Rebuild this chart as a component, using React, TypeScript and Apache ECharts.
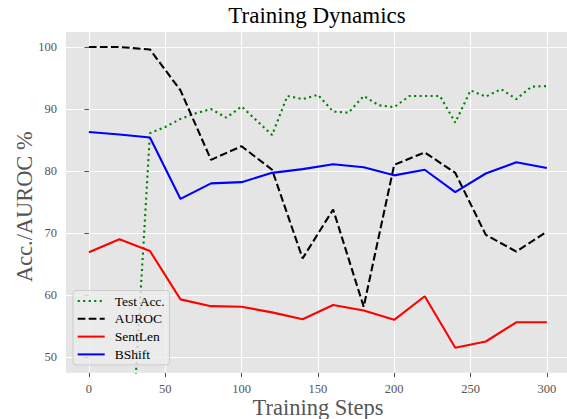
import React, { useEffect, useRef } from 'react';
import * as echarts from 'echarts';

const steps = [0, 20, 40, 60, 80, 100, 120, 140, 160, 180, 200, 220, 240, 260, 280, 300];
const testAccSteps = [0, 10, 20, 30, 40, 50, 60, 70, 80, 90, 100, 110, 120, 130, 140, 150, 160, 170, 180, 190, 200, 210, 220, 230, 240, 250, 260, 270, 280, 290, 300];
const testAcc = [40, 41, 42, 44, 86.1, 87.1, 88.4, 89.3, 90.0, 88.6, 90.4, 88.1, 85.8, 92.1, 91.6, 92.3, 89.6, 89.4, 92.1, 90.6, 90.3, 92.1, 92.1, 92.1, 87.8, 93.0, 92.0, 93.2, 91.6, 93.6, 93.7];
const auroc = [100, 100, 99.6, 93.0, 81.8, 84.0, 80.2, 65.9, 73.8, 58.1, 81.0, 83.0, 79.7, 69.7, 67.0, 70.2];
const sentLen = [66.9, 69.0, 67.1, 59.3, 58.2, 58.1, 57.2, 56.1, 58.4, 57.5, 56.0, 59.8, 51.5, 52.5, 55.6, 55.6];
const bShift = [86.3, 85.9, 85.4, 75.5, 78.0, 78.2, 79.7, 80.3, 81.1, 80.6, 79.3, 80.2, 76.6, 79.6, 81.4, 80.5];
const xTicks = [0, 50, 100, 150, 200, 250, 300];
const yTicks = [50, 60, 70, 80, 90, 100];

const FONT = 'Liberation Serif';

const pairs = (xs: number[], ys: number[]) => xs.map((x, i) => [x, ys[i]]);

export default function App() {
  const ref = useRef<HTMLDivElement>(null);
  useEffect(() => {
    const chart = echarts.init(ref.current!, null, { renderer: 'svg' });
    const lw = 2.1;
    chart.setOption({
      animation: false,
      backgroundColor: '#ffffff',
      textStyle: { fontFamily: FONT },
      grid: {
        left: 66, right: 0, top: 32, bottom: 46.3,
        show: true, backgroundColor: '#E5E5E5', borderWidth: 0,
      },
      xAxis: {
        type: 'value', min: -15, max: 313.2,
        axisLine: { show: false },
        axisTick: { show: true, length: 4.5, lineStyle: { color: '#555555', width: 1 }, customValues: xTicks },
        axisLabel: { customValues: xTicks, color: '#555555', fontFamily: FONT, fontSize: 12.5, margin: 9.5 },
        splitLine: { show: true, lineStyle: { color: '#ffffff', width: 1.1 } },
      },
      yAxis: {
        type: 'value', min: 47.47, max: 102.42,
        axisLine: { show: false },
        axisTick: { show: true, length: 4.5, lineStyle: { color: '#555555', width: 1 }, customValues: yTicks },
        axisLabel: { customValues: yTicks, color: '#555555', fontFamily: FONT, fontSize: 12.5, margin: 9 },
        splitLine: { show: true, lineStyle: { color: '#ffffff', width: 1.1 } },
      },
      legend: {
        orient: 'vertical', left: 73, top: 290.5,
        itemWidth: 27, itemHeight: 14, itemGap: 3.8,
        padding: [3.5, 4, 3.5, 3.7],
        backgroundColor: 'rgba(236,236,236,0.8)',
        borderColor: '#cccccc', borderWidth: 1, borderRadius: 3,
        itemStyle: { opacity: 0 },
        textStyle: { fontFamily: FONT, fontSize: 13.5, color: '#000000', padding: [0, 0, 0, 5] },
        data: ['Test Acc.', 'AUROC', 'SentLen', 'BShift'],
      },
      series: [
        {
          name: 'Test Acc.', type: 'line', data: pairs(testAccSteps, testAcc),
          symbol: 'none', showSymbol: false, color: '#008000',
          lineStyle: { color: '#008000', width: lw, type: [2.1, 3.4], cap: 'butt' },
        },
        {
          name: 'AUROC', type: 'line', data: pairs(steps, auroc),
          symbol: 'none', showSymbol: false, color: '#000000',
          lineStyle: { color: '#000000', width: lw, type: [7.7, 3.3], cap: 'butt' },
        },
        {
          name: 'SentLen', type: 'line', data: pairs(steps, sentLen),
          symbol: 'none', showSymbol: false, color: '#ff0000',
          lineStyle: { color: '#ff0000', width: lw },
        },
        {
          name: 'BShift', type: 'line', data: pairs(steps, bShift),
          symbol: 'none', showSymbol: false, color: '#0000ff',
          lineStyle: { color: '#0000ff', width: lw },
        },
      ],
      graphic: [
        {
          type: 'text', x: 317, y: 15.5,
          style: { text: 'Training Dynamics', fontFamily: FONT, fontSize: 23, fill: '#000000', align: 'center', verticalAlign: 'middle' },
        },
        {
          type: 'text', x: 318, y: 407,
          style: { text: 'Training Steps', fontFamily: FONT, fontSize: 22.5, fill: '#555555', align: 'center', verticalAlign: 'middle' },
        },
        {
          type: 'text', x: 24, y: 206.7, rotation: Math.PI / 2,
          style: { text: 'Acc./AUROC %', fontFamily: FONT, fontSize: 22.4, fill: '#555555', align: 'center', verticalAlign: 'middle' },
        },
      ],
    });
    return () => chart.dispose();
  }, []);
  return <div ref={ref} style={{ position: 'fixed', left: 0, top: 0, width: 567, height: 419, background: '#fff' }} />;
}
